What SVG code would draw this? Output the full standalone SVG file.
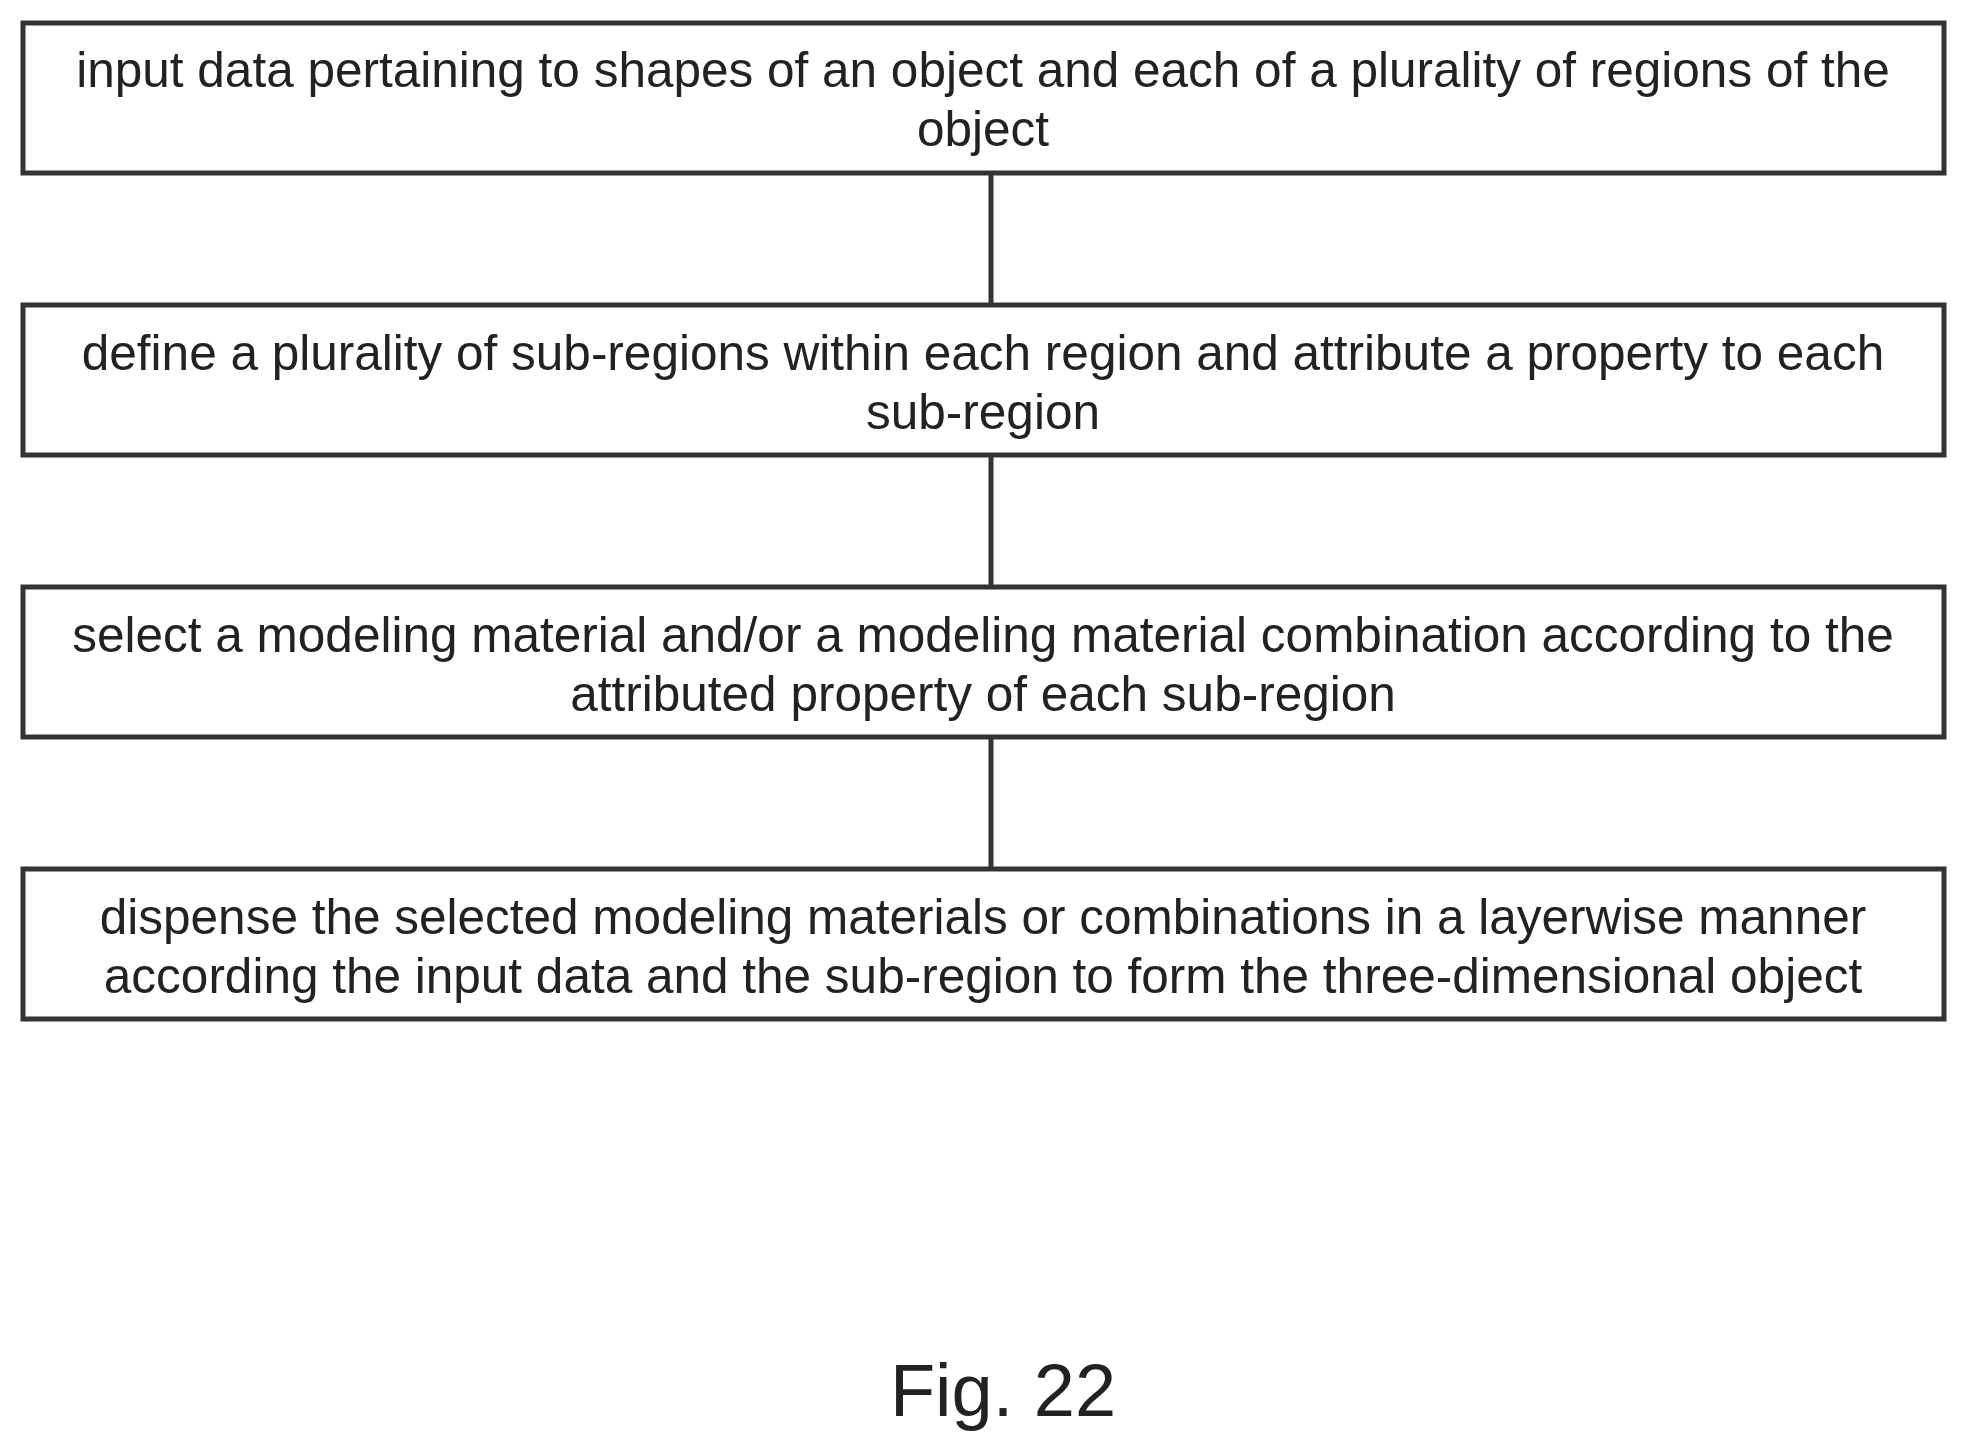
<svg xmlns="http://www.w3.org/2000/svg" width="1966" height="1456" viewBox="0 0 1966 1456">
<style>
.box{fill:#fff;stroke:#333;stroke-width:5}
.t{font-family:"Liberation Sans",Arial,sans-serif;font-size:49.5px;fill:#222;text-anchor:middle}
.c{stroke:#333;stroke-width:5}
</style>
<rect width="1966" height="1456" fill="#fff"/>
<g id="connectors">
<line class="c" x1="991" y1="173" x2="991" y2="305"/>
<line class="c" x1="991" y1="455" x2="991" y2="587"/>
<line class="c" x1="991" y1="737" x2="991" y2="869"/>
</g>
<g id="n1"><rect class="box" x="23" y="23" width="1921" height="150"/>
<text class="t" x="983" y="87">input data pertaining to shapes of an object and each of a plurality of regions of the</text>
<text class="t" x="983" y="146">object</text></g>
<g id="n2"><rect class="box" x="23" y="305" width="1921" height="150"/>
<text class="t" x="983" y="370">define a plurality of sub-regions within each region and attribute a property to each</text>
<text class="t" x="983" y="429">sub-region</text></g>
<g id="n3"><rect class="box" x="23" y="587" width="1921" height="150"/>
<text class="t" x="983" y="652">select a modeling material and/or a modeling material combination according to the</text>
<text class="t" x="983" y="711">attributed property of each sub-region</text></g>
<g id="n4"><rect class="box" x="23" y="869" width="1921" height="150"/>
<text class="t" x="983" y="934">dispense the selected modeling materials or combinations in a layerwise manner</text>
<text class="t" x="983" y="993">according the input data and the sub-region to form the three-dimensional object</text></g>
<text x="1003" y="1416" style="font-family:'Liberation Sans',Arial,sans-serif;font-size:74px;fill:#222;text-anchor:middle">Fig. 22</text>
</svg>
